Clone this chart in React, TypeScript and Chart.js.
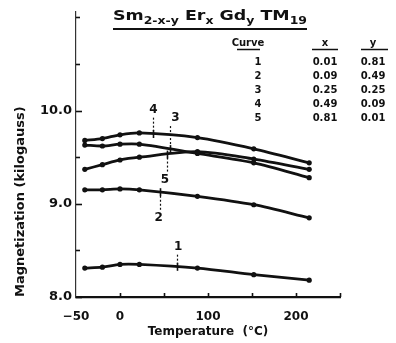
import { useEffect, useRef } from 'react';
import { Chart, registerables } from 'chart.js';

Chart.register(...registerables);

// Measurement temperatures (°C) shared by all five alloys
const temperatures = [-40, -20, 0, 22, 88, 152, 215];

// Magnetization (kilogauss) for each curve
const curve1 = [8.31, 8.32, 8.35, 8.35, 8.31, 8.24, 8.18];
const curve2 = [9.15, 9.15, 9.16, 9.15, 9.08, 8.99, 8.85];
const curve3 = [9.63, 9.62, 9.64, 9.64, 9.54, 9.44, 9.28];
const curve4 = [9.68, 9.70, 9.74, 9.76, 9.71, 9.59, 9.44];
const curve5 = [9.37, 9.42, 9.47, 9.50, 9.56, 9.48, 9.37];
const allCurves = [curve1, curve2, curve3, curve4, curve5];

// Composition table
const curveNames = ['1', '2', '3', '4', '5'];
const erFractions = ['0.01', '0.09', '0.25', '0.49', '0.81'];
const gdFractions = ['0.81', '0.49', '0.25', '0.09', '0.01'];

// Axis ticks
const xTickValues = [-50, 0, 50, 100, 150, 200, 250];
const xTickLabels = ['\u221250', '0', '', '100', '', '200', ''];
const yTickValues = [8, 8.5, 9, 9.5, 10, 10.5, 11];
const yTickLabels = ['8.0', '', '9.0', '', '10.0', '', ''];

// Curve number callouts: label position and where the leader meets the curve
const calloutTemps = [66, 44, 63, 38, 51];
const calloutValues = [8.54, 8.85, 9.92, 10.01, 9.26];
const leaderTemps = [65, 46, 57, 37, 53];

const FONT = '"DejaVu Sans", Verdana, sans-serif';
const INK = '#111';

function valueAt(series: number[], t: number): number {
  for (let i = 0; i < temperatures.length - 1; i++) {
    const a = temperatures[i];
    const b = temperatures[i + 1];
    if (t >= a && t <= b) {
      const f = (t - a) / (b - a);
      return series[i] + f * (series[i + 1] - series[i]);
    }
  }
  return series[series.length - 1];
}

const decorations = {
  id: 'decorations',
  afterDraw(chart: any) {
    const { ctx, chartArea } = chart;
    const xs = chart.scales.x;
    const ys = chart.scales.y;
    ctx.save();
    ctx.fillStyle = INK;
    ctx.strokeStyle = INK;

    // inward tick marks
    ctx.lineWidth = 1.6;
    yTickValues.forEach((v, i) => {
      const py = Math.round(ys.getPixelForValue(v)) + 0.5;
      const len = yTickLabels[i] ? 6 : 4;
      ctx.beginPath();
      ctx.moveTo(chartArea.left, py);
      ctx.lineTo(chartArea.left + len, py);
      ctx.stroke();
    });
    xTickValues.forEach((v, i) => {
      if (i === 0) return;
      const px = Math.round(xs.getPixelForValue(v)) + 0.5;
      ctx.beginPath();
      ctx.moveTo(px, chartArea.bottom);
      ctx.lineTo(px, chartArea.bottom - 4);
      ctx.stroke();
    });

    // curve callouts with dotted leaders
    ctx.font = `bold 12px ${FONT}`;
    ctx.textAlign = 'center';
    ctx.textBaseline = 'middle';
    curveNames.forEach((name, i) => {
      const lx = xs.getPixelForValue(calloutTemps[i]);
      const ly = ys.getPixelForValue(calloutValues[i]);
      ctx.fillText(name, lx, ly);
      const px = Math.round(xs.getPixelForValue(leaderTemps[i])) + 0.5;
      const cy = ys.getPixelForValue(valueAt(allCurves[i], leaderTemps[i]));
      const dir = cy > ly ? 1 : -1;
      ctx.lineWidth = 1.2;
      ctx.setLineDash([2, 2]);
      ctx.beginPath();
      ctx.moveTo(px, ly + dir * 8);
      ctx.lineTo(px, cy - dir * 3);
      ctx.stroke();
      ctx.setLineDash([]);
      ctx.lineWidth = 1.6;
      ctx.beginPath();
      ctx.moveTo(px, cy - 4);
      ctx.lineTo(px, cy + 4);
      ctx.stroke();
    });

    // formula title
    const segs: [string, boolean][] = [
      ['Sm', false], ['2-x-y', true], [' Er', false], ['x', true],
      [' Gd', false], ['y', true], [' TM', false], ['19', true],
    ];
    const mainFont = `bold 14px ${FONT}`;
    const subFont = `bold 10px ${FONT}`;
    let total = 0;
    segs.forEach(([s, sub]) => {
      ctx.font = sub ? subFont : mainFont;
      total += ctx.measureText(s).width;
    });
    const tx0 = 113;
    const tx1 = 307;
    const sx = (tx1 - tx0) / total;
    ctx.save();
    ctx.translate(tx0, 0);
    ctx.scale(sx, 1);
    ctx.textAlign = 'left';
    ctx.textBaseline = 'alphabetic';
    let cx = 0;
    segs.forEach(([s, sub]) => {
      ctx.font = sub ? subFont : mainFont;
      ctx.fillText(s, cx, sub ? 24 : 20);
      cx += ctx.measureText(s).width;
    });
    ctx.restore();
    ctx.lineWidth = 2;
    ctx.beginPath();
    ctx.moveTo(tx0, 29);
    ctx.lineTo(tx1, 29);
    ctx.stroke();

    // composition table
    const colCurve = 258;
    const colX = 325;
    const colY = 373;
    ctx.textAlign = 'center';
    ctx.textBaseline = 'middle';
    ctx.font = `bold 10px ${FONT}`;
    ctx.fillText('Curve', 248, 43);
    ctx.fillText('x', colX, 43);
    ctx.fillText('y', colY, 43);
    ctx.lineWidth = 1.5;
    [[237, 260], [312, 338], [361, 388]].forEach(([a, b]) => {
      ctx.beginPath();
      ctx.moveTo(a, 49.5);
      ctx.lineTo(b, 49.5);
      ctx.stroke();
    });
    curveNames.forEach((name, i) => {
      const ry = 62 + i * 14;
      ctx.fillText(name, colCurve, ry);
      ctx.fillText(erFractions[i], colX, ry);
      ctx.fillText(gdFractions[i], colY, ry);
    });

    ctx.restore();
  },
};

export default function App() {
  const canvasRef = useRef<HTMLCanvasElement | null>(null);

  useEffect(() => {
    const canvas = canvasRef.current;
    if (!canvas) return;
    const datasets = allCurves.map((series, i) => ({
      label: `Curve ${curveNames[i]}`,
      data: temperatures.map((t, j) => ({ x: t, y: series[j] })),
      borderColor: INK,
      backgroundColor: INK,
      borderWidth: 2.8,
      pointRadius: 2.6,
      pointBorderWidth: 0,
      pointBackgroundColor: INK,
      tension: 0.3,
      fill: false,
    }));

    const chart = new Chart(canvas, {
      type: 'line',
      data: { datasets },
      options: {
        responsive: false,
        animation: false,
        devicePixelRatio: 1,
        layout: { padding: { left: 0, right: 56, top: 8, bottom: 0 } },
        plugins: { legend: { display: false }, tooltip: { enabled: false } },
        scales: {
          x: {
            type: 'linear',
            min: -50,
            max: 250,
            afterBuildTicks: (scale: any) => {
              scale.ticks = xTickValues.map((v) => ({ value: v }));
            },
            afterFit: (scale: any) => {
              scale.height = 46;
            },
            ticks: {
              padding: 13,
              color: INK,
              font: { family: FONT, size: 12, weight: 'bold' },
              maxRotation: 0,
              autoSkip: false,
              callback: (v: any) => {
                const k = xTickValues.indexOf(Number(v));
                return k >= 0 ? xTickLabels[k] : '';
              },
            },
            grid: { display: false, drawTicks: false },
            border: { display: true, color: INK, width: 2.2 },
            title: {
              display: true,
              text: 'Temperature  (°C)',
              color: INK,
              font: { family: FONT, size: 12, weight: 'bold' },
              padding: { top: 0, bottom: 4 },
            },
          },
          y: {
            type: 'linear',
            min: 8,
            max: 11.06,
            afterBuildTicks: (scale: any) => {
              scale.ticks = yTickValues.map((v) => ({ value: v }));
            },
            afterFit: (scale: any) => {
              scale.width = 76;
            },
            ticks: {
              padding: 4,
              color: INK,
              font: { family: FONT, size: 13, weight: 'bold' },
              autoSkip: false,
              callback: (v: any) => {
                const k = yTickValues.indexOf(Number(v));
                return k >= 0 ? yTickLabels[k] : '';
              },
            },
            grid: { display: false, drawTicks: false },
            border: { display: true, color: '#333', width: 1.2, dash: [6, 3] },
            title: {
              display: true,
              text: 'Magnetization (kilogauss)',
              align: 'start',
              color: INK,
              font: { family: FONT, size: 13, weight: 'bold' },
              padding: { top: 13, bottom: 0 },
            },
          },
        },
      },
      plugins: [decorations],
    } as any);

    return () => chart.destroy();
  }, []);

  return (
    <div style={{ position: 'fixed', left: 0, top: 0, width: 396, height: 343, background: '#fff' }}>
      <canvas ref={canvasRef} width={396} height={343} />
    </div>
  );
}
